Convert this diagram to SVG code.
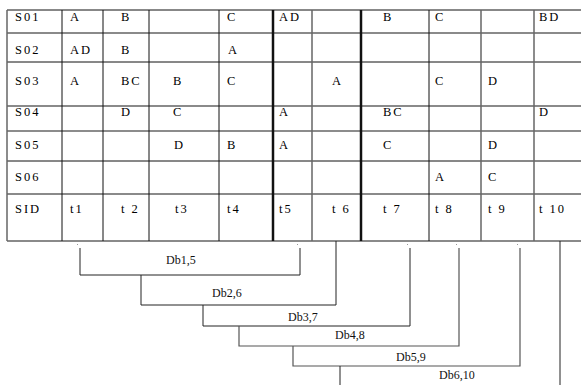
<svg xmlns="http://www.w3.org/2000/svg" width="581" height="385" viewBox="0 0 581 385">
<style>
.t{font-family:"Liberation Serif","DejaVu Serif","Times New Roman",serif;font-size:12.5px;letter-spacing:2px;fill:#000}
.l{font-family:"Liberation Serif","DejaVu Serif","Times New Roman",serif;font-size:12px;fill:#111}
.k{stroke:#111;stroke-width:1;fill:none}
.kt{stroke:#111;stroke-width:2.5;fill:none}
.g{stroke:#8a8a8a;stroke-width:2;fill:none}
.gt{stroke:#666;stroke-width:1.5;fill:none}
.b{stroke:#222;stroke-width:1;fill:none}
.bg{stroke:#555;stroke-width:1.2;fill:none}
</style>
<rect width="581" height="385" fill="#fff"/>
<g id="table-grid">
<line class="k" x1="7" y1="10" x2="581" y2="10"/>
<line class="g" x1="7" y1="33" x2="581" y2="33"/>
<line class="k" x1="7" y1="62" x2="581" y2="62"/>
<line class="g" x1="7" y1="106" x2="581" y2="106"/>
<line class="gt" x1="7" y1="131" x2="581" y2="131"/>
<line class="k" x1="7" y1="161" x2="581" y2="161"/>
<line class="g" x1="7" y1="194" x2="581" y2="194"/>
<line class="g" x1="7" y1="241" x2="581" y2="241"/>
<line class="gt" x1="7" y1="10" x2="7" y2="241"/>
<line class="k" x1="62" y1="10" x2="62" y2="241"/>
<line class="k" x1="103" y1="10" x2="103" y2="241"/>
<line class="k" x1="149" y1="10" x2="149" y2="241"/>
<line class="k" x1="219" y1="10" x2="219" y2="241"/>
<line class="kt" x1="273" y1="10" x2="273" y2="241"/>
<line class="gt" x1="312" y1="10" x2="312" y2="241"/>
<line class="kt" x1="361" y1="10" x2="361" y2="241"/>
<line class="k" x1="429" y1="10" x2="429" y2="241"/>
<line class="gt" x1="481" y1="10" x2="481" y2="241"/>
<line class="gt" x1="534" y1="10" x2="534" y2="241"/>
</g>
<g id="row-S01">
<text class="t" x="15" y="21">S01</text>
<text class="t" x="70" y="21">A</text>
<text class="t" x="121" y="21">B</text>
<text class="t" x="227" y="21">C</text>
<text class="t" x="279" y="21">AD</text>
<text class="t" x="383" y="21">B</text>
<text class="t" x="435" y="21">C</text>
<text class="t" x="539" y="21">BD</text>
</g>
<g id="row-S02">
<text class="t" x="15" y="54">S02</text>
<text class="t" x="70" y="54">AD</text>
<text class="t" x="121" y="54">B</text>
<text class="t" x="228" y="54">A</text>
</g>
<g id="row-S03">
<text class="t" x="15" y="85">S03</text>
<text class="t" x="70" y="85">A</text>
<text class="t" x="121" y="85">BC</text>
<text class="t" x="173" y="85">B</text>
<text class="t" x="227" y="85">C</text>
<text class="t" x="332" y="85">A</text>
<text class="t" x="435" y="85">C</text>
<text class="t" x="488" y="85">D</text>
</g>
<g id="row-S04">
<text class="t" x="15" y="116">S04</text>
<text class="t" x="121" y="116">D</text>
<text class="t" x="173" y="116">C</text>
<text class="t" x="279" y="116">A</text>
<text class="t" x="383" y="116">BC</text>
<text class="t" x="539" y="116">D</text>
</g>
<g id="row-S05">
<text class="t" x="15" y="149">S05</text>
<text class="t" x="174" y="149">D</text>
<text class="t" x="227" y="149">B</text>
<text class="t" x="279" y="149">A</text>
<text class="t" x="383" y="149">C</text>
<text class="t" x="488" y="149">D</text>
</g>
<g id="row-S06">
<text class="t" x="15" y="181">S06</text>
<text class="t" x="435" y="181">A</text>
<text class="t" x="488" y="181">C</text>
</g>
<g id="row-SID">
<text class="t" x="15" y="213">SID</text>
<text class="t" x="70" y="213">t1</text>
<text class="t" x="121" y="213">t 2</text>
<text class="t" x="175" y="213">t3</text>
<text class="t" x="227" y="213">t4</text>
<text class="t" x="279" y="213">t5</text>
<text class="t" x="332" y="213">t 6</text>
<text class="t" x="383" y="213">t 7</text>
<text class="t" x="435" y="213">t 8</text>
<text class="t" x="488" y="213">t 9</text>
<text class="t" x="539" y="213">t 10</text>
</g>
<g id="connectors">
<g fill="#999">
<rect x="77" y="244" width="1" height="1"/>
<rect x="297" y="244" width="1" height="1"/>
<rect x="407" y="244" width="1" height="1"/>
<rect x="456" y="244" width="1" height="1"/>
<rect x="517" y="244" width="1" height="1"/>
</g>
<polyline class="b" points="80,248 80,275 300,275 300,248"/>
<polyline class="b" points="141,275 141,305 336,305 336,241"/>
<polyline class="b" points="203,305 203,326 410,326 410,248"/>
<polyline class="bg" points="239,326 239,346 459,346 459,248"/>
<polyline class="bg" points="293,346 293,366 520,366 520,248"/>
<line class="b" x1="340" y1="366" x2="340" y2="385"/>
<line class="b" x1="560" y1="241" x2="560" y2="385"/>
</g>
<g id="labels">
<text class="l" x="166" y="264">Db1,5</text>
<text class="l" x="212" y="297">Db2,6</text>
<text class="l" x="288" y="321">Db3,7</text>
<text class="l" x="335" y="339">Db4,8</text>
<text class="l" x="396" y="361">Db5,9</text>
<text class="l" x="439" y="379">Db6,10</text>
</g>
</svg>
